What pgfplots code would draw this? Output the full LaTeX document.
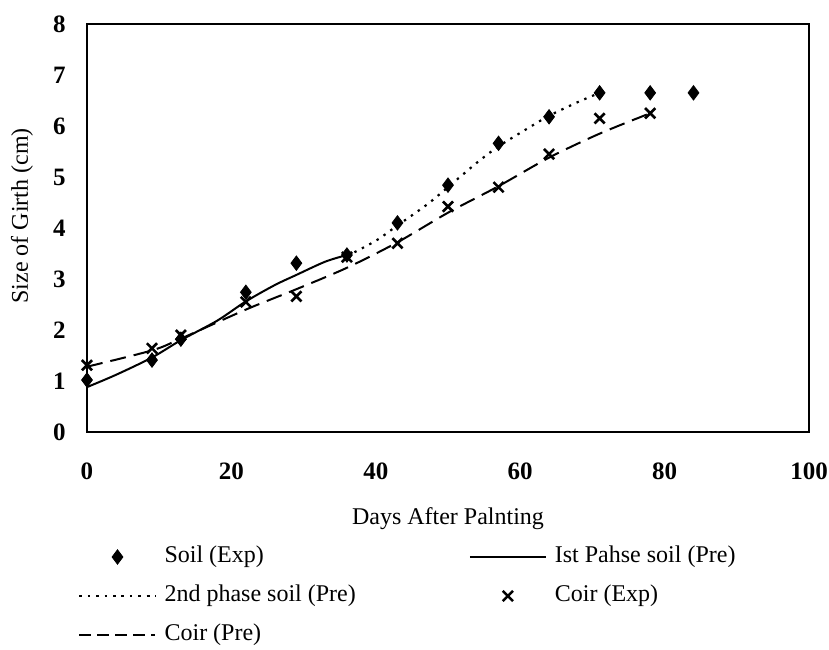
\documentclass[border=0pt]{standalone}
\usepackage{fontspec}
\setmainfont{Liberation Serif}
\usepackage{pgfplots}
\pgfplotsset{compat=1.18}
\begin{document}
\fontsize{12pt}{14pt}\selectfont
\begin{tikzpicture}
\begin{axis}[
  scale only axis,
  width=361pt, height=204pt,
  xmin=0, xmax=100, ymin=0, ymax=8,
  xtick={0,20,...,100}, ytick={0,1,...,8},
  major tick length=0pt,
  /pgf/number format/assume math mode=true,
  ticklabel style={font=\fontsize{12.5pt}{14pt}\selectfont\bfseries},
  xticklabel style={yshift=-11pt},
  yticklabel style={xshift=-6.5pt},
  xlabel={Days After Palnting},
  ylabel={Size of Girth (cm)},
  label style={font=\fontsize{12pt}{14pt}\selectfont},
  xlabel style={at={(axis description cs:0.5,-0.212)}, anchor=center},
  ylabel style={at={(axis description cs:-0.09,0.53)}, anchor=center},
  axis line style={line width=1.1pt},
  legend columns=2,
  legend cell align=left,
  legend image code/.code={\draw[mark repeat=2,mark phase=2] plot coordinates {(0pt,0pt) (19pt,0pt) (38pt,0pt)};},
  legend style={draw=none, at={(axis description cs:-0.0125,-0.276)}, anchor=north west,
    inner sep=0pt, row sep=7.5pt, font=\fontsize{12pt}{14pt}\selectfont,
    nodes={inner sep=0pt, text height=9pt, text depth=3pt},
    /tikz/every odd column/.append style={column sep=4pt},
    /tikz/every even column/.append style={column sep=56.5pt}},
]
\coordinate (SW) at (rel axis cs:0,0);
\coordinate (NE) at (rel axis cs:1,1);
% Soil (Exp)
\addplot[only marks, mark=diamond*, mark size=3.6pt, black] coordinates {
(0,1.02) (9,1.41) (13,1.82) (22,2.74) (29,3.31) (36,3.47) (43,4.1) (50,4.84) (57,5.66) (64,6.18) (71,6.65) (78,6.65) (84,6.65)};
\addlegendentry{Soil (Exp)}
% 1st phase soil (Pre)
\addplot[black, line width=1pt, smooth, no marks] coordinates {
(0,0.88) (4,1.12) (9,1.46) (13,1.8) (18,2.18) (22,2.56) (26,2.88) (29,3.08) (33,3.34) (36,3.47)};
\addlegendentry{Ist Pahse soil (Pre)}
% 2nd phase soil (Pre)
\addplot[black, line width=1.1pt, smooth, no marks, dash pattern=on 1.2pt off 3pt] coordinates {
(36,3.45) (40,3.75) (43,4.05) (47,4.45) (50,4.8) (54,5.28) (57,5.6) (61,5.95) (64,6.2) (68,6.47) (71,6.65)};
\addlegendentry{2nd phase soil (Pre)}
% Coir (Exp)
\addplot[only marks, mark=x, mark size=3.6pt, black, line width=1.3pt] coordinates {
(0,1.31) (9,1.64) (13,1.9) (22,2.55) (29,2.66) (36,3.43) (43,3.7) (50,4.42) (57,4.8) (64,5.45) (71,6.15) (78,6.25)};
\addlegendentry{Coir (Exp)}
% Coir (Pre)
\addplot[black, line width=1pt, smooth, no marks, dash pattern=on 8pt off 4pt,
  legend image code/.code={\draw[black, line width=1pt, dash pattern=on 6pt off 3pt] (0pt,0pt) -- (38pt,0pt);}] coordinates {
(0,1.28) (9,1.6) (13,1.83) (22,2.4) (29,2.8) (36,3.22) (43,3.72) (50,4.3) (57,4.82) (64,5.38) (71,5.85) (78,6.25)};
\addlegendentry{Coir (Pre)}
\end{axis}
\pgfresetboundingbox
\useasboundingbox ([xshift=-43.5pt,yshift=-109pt]SW) rectangle ([xshift=10pt,yshift=12pt]NE);
\end{tikzpicture}
\end{document}
